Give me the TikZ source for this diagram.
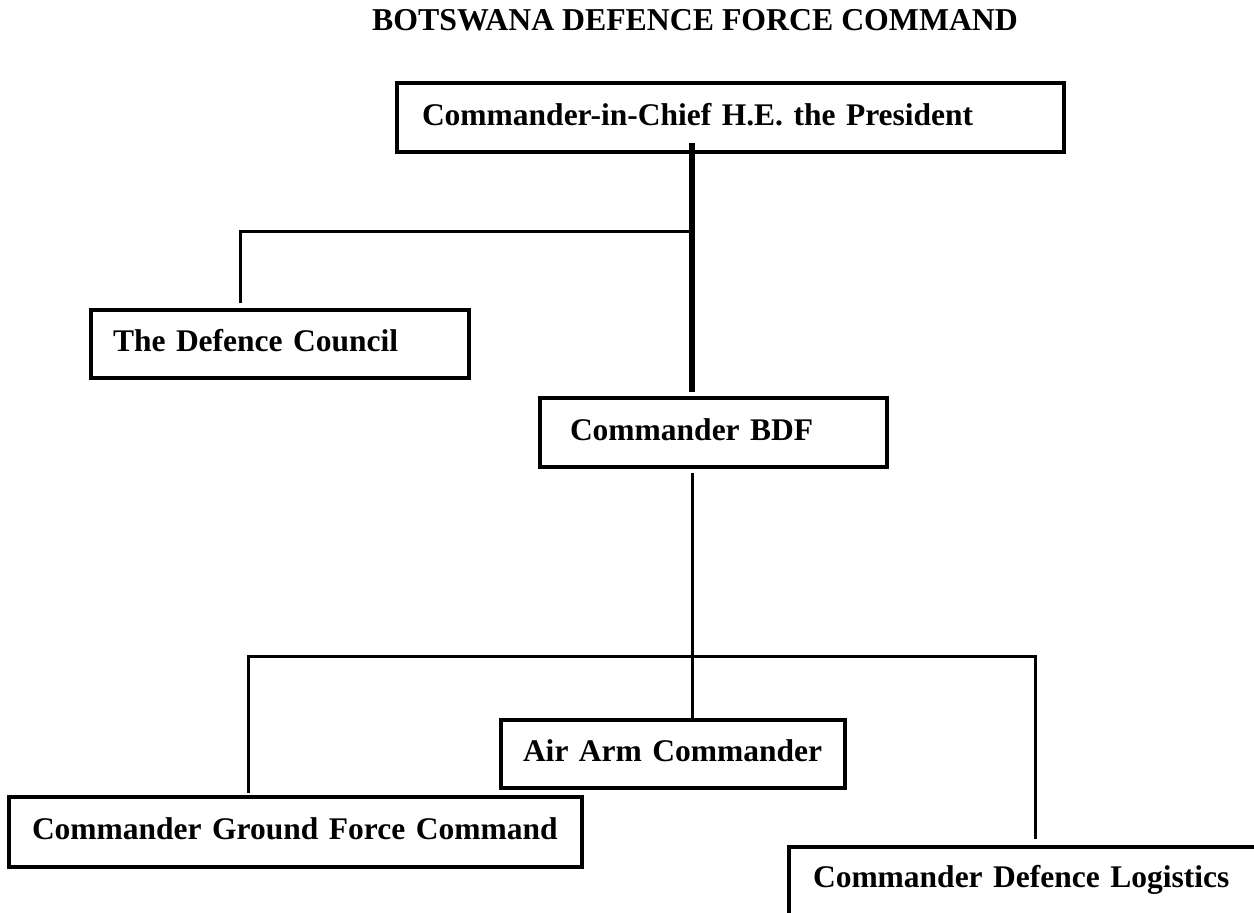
\documentclass[tikz,border=0pt]{standalone}
\usepackage{fontspec}
\setmainfont{Liberation Serif}
\usetikzlibrary{calc}
\tikzset{
  orgbox/.style={draw, line width=3.5pt, rectangle, anchor=north west, outer sep=0pt,
    inner ysep=0pt, align=left, font=\fontsize{31.5}{38}\selectfont\bfseries,
    text height=22pt, text depth=7pt},
  link/.style={line width=3pt},
  spinelink/.style={line width=6pt}
}
\begin{document}
\begin{tikzpicture}[x=1pt,y=-1pt]
\clip (0,0) rectangle (1254,913);
\useasboundingbox (0,0) rectangle (1254,913);
\node[anchor=base west, font=\fontsize{31.8}{38}\selectfont\bfseries, inner sep=0pt] (title) at (372,30) {BOTSWANA DEFENCE FORCE COMMAND};
\node[orgbox, minimum width=667pt, minimum height=69pt, inner xsep=25pt, text width=617pt] (chief) at (397,83) {\mbox{Commander-in-Chief H.E. the President}};
\node[orgbox, minimum width=378pt, minimum height=68pt, inner xsep=22pt, text width=334pt] (council) at (91,310) {\mbox{The Defence Council}};
\node[orgbox, minimum width=347pt, minimum height=69pt, inner xsep=30pt, text width=287pt] (bdf) at (540,398) {\mbox{Commander BDF}};
\node[orgbox, minimum width=344pt, minimum height=68pt, inner xsep=22pt, text width=300pt] (air) at (501,720) {\mbox{Air Arm Commander}};
\node[orgbox, minimum width=573pt, minimum height=70pt, inner xsep=23pt, text width=527pt] (ground) at (9,797) {\mbox{Commander Ground Force Command}};
\node[orgbox, minimum width=520pt, minimum height=140pt, inner xsep=24pt, text width=472pt, text depth=81pt] (logis) at (789,847) {\mbox{Commander Defence Logistics}};
\coordinate (spine) at (692,0);
\coordinate (cx) at (240,0);
\coordinate (gx) at (248,0);
\coordinate (lx) at (1035,0);
\coordinate (cj) at (692,231);
\coordinate (bj) at (692,656);
\draw[spinelink] ([yshift=9pt]chief.south -| spine) -- ([yshift=6pt]bdf.north -| spine);
\draw[link] (cj) -| ([yshift=7pt]council.north -| cx);
\draw[link] ([yshift=-6pt]bdf.south -| spine) -- (air.north -| spine);
\draw[link] ([yshift=4pt]ground.north -| gx) |- (bj) -| ([yshift=8pt]logis.north -| lx);
\end{tikzpicture}
\end{document}
